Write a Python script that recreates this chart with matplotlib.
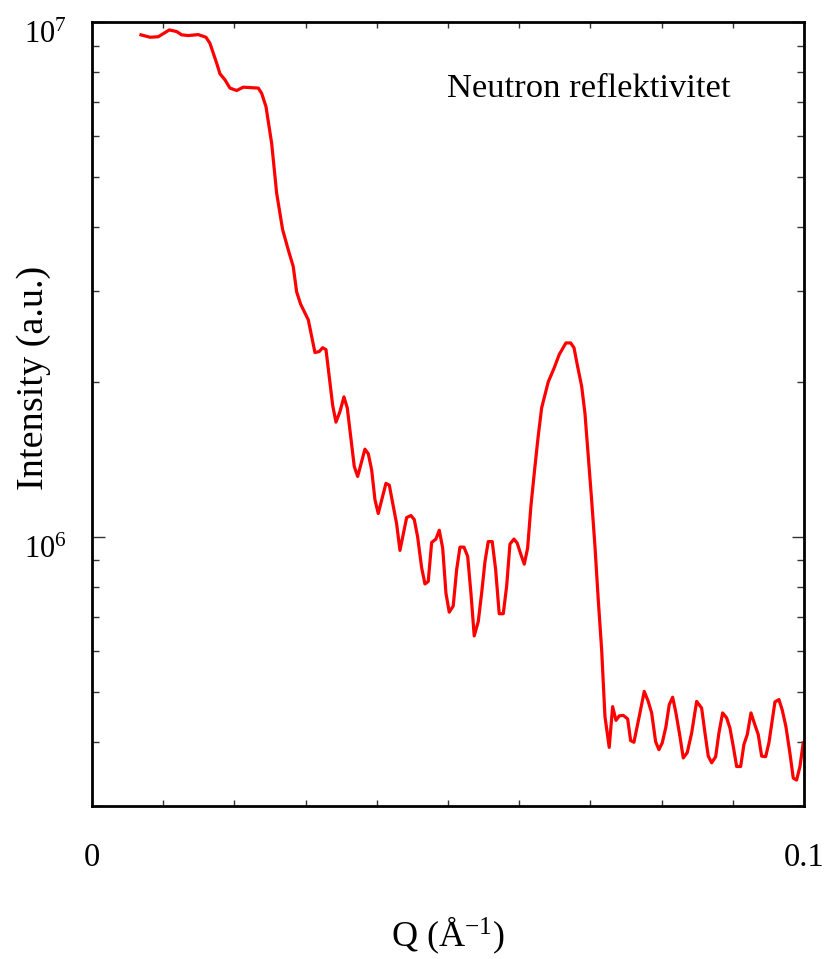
import matplotlib
matplotlib.use('Agg')
import matplotlib.pyplot as plt
from matplotlib.ticker import FixedLocator, LogLocator, NullFormatter, FixedFormatter
from matplotlib.transforms import ScaledTranslation

plt.rcParams['font.family'] = ['Liberation Serif', 'DejaVu Serif']
plt.rcParams['mathtext.fontset'] = 'custom'
plt.rcParams['mathtext.rm'] = 'Liberation Serif'
plt.rcParams['mathtext.it'] = 'Liberation Serif:italic'
plt.rcParams['ytick.alignment'] = 'center'

# Q (1/Å) och intensitet (a.u.)
q = [0.00688, 0.00815, 0.00931, 0.01086, 0.01190, 0.01260, 0.01353, 0.01493,
     0.01601, 0.01657, 0.01751, 0.01798, 0.01868, 0.01938, 0.02032, 0.02125,
     0.02336, 0.02383, 0.02444, 0.02524, 0.02594, 0.02678, 0.02757, 0.02827,
     0.02875, 0.02931, 0.03038, 0.03132, 0.03192, 0.03240, 0.03287, 0.03381,
     0.03427, 0.03483, 0.03539, 0.03586, 0.03624, 0.03684, 0.03732, 0.03834,
     0.03881, 0.03928, 0.03975, 0.04021, 0.04129, 0.04176, 0.04279, 0.04326,
     0.04420, 0.04480, 0.04527, 0.04574, 0.04631, 0.04677, 0.04723, 0.04771,
     0.04831, 0.04878, 0.04926, 0.04972, 0.05018, 0.05074, 0.05122, 0.05169,
     0.05225, 0.05277, 0.05323, 0.05369, 0.05426, 0.05473, 0.05520, 0.05566,
     0.05622, 0.05670, 0.05720, 0.05777, 0.05824, 0.05871, 0.05927, 0.05973,
     0.06021, 0.06072, 0.06119, 0.06166, 0.06222, 0.06268, 0.06316, 0.06409,
     0.06493, 0.06563, 0.06657, 0.06723, 0.06770, 0.06816, 0.06878, 0.06924,
     0.06971, 0.07018, 0.07065, 0.07111, 0.07159, 0.07205, 0.07265, 0.07313,
     0.07360, 0.07406, 0.07462, 0.07524, 0.07566, 0.07612, 0.07697, 0.07757,
     0.07813, 0.07861, 0.07917, 0.07963, 0.08010, 0.08062, 0.08108, 0.08156,
     0.08202, 0.08258, 0.08305, 0.08361, 0.08423, 0.08493, 0.08563, 0.08610,
     0.08656, 0.08704, 0.08760, 0.08806, 0.08858, 0.08914, 0.08961, 0.09007,
     0.09055, 0.09111, 0.09157, 0.09204, 0.09256, 0.09312, 0.09358, 0.09406,
     0.09462, 0.09508, 0.09593, 0.09649, 0.09695, 0.09747, 0.09803, 0.09850,
     0.09897, 0.09944, 0.09990]

intensity = [9.44e6, 9.34e6, 9.36e6, 9.65e6, 9.58e6, 9.44e6, 9.41e6, 9.45e6,
             9.34e6, 9.09e6, 8.32e6, 7.93e6, 7.72e6, 7.44e6, 7.36e6, 7.47e6,
             7.44e6, 7.27e6, 6.85e6, 5.81e6, 4.65e6, 3.95e6, 3.61e6, 3.35e6,
             2.99e6, 2.83e6, 2.64e6, 2.28e6, 2.29e6, 2.33e6, 2.31e6, 1.80e6,
             1.67e6, 1.75e6, 1.87e6, 1.78e6, 1.61e6, 1.37e6, 1.31e6, 1.48e6,
             1.45e6, 1.35e6, 1.18e6, 1.11e6, 1.27e6, 1.26e6, 1.06e6, 9.41e5,
             1.09e6, 1.10e6, 1.08e6, 1.00e6, 8.70e5, 8.10e5, 8.19e5, 9.75e5,
             9.90e5, 1.03e6, 9.51e5, 7.77e5, 7.14e5, 7.34e5, 8.63e5, 9.55e5,
             9.55e5, 9.16e5, 7.77e5, 6.42e5, 6.85e5, 7.77e5, 8.95e5, 9.79e5,
             9.79e5, 8.63e5, 7.09e5, 7.09e5, 8.01e5, 9.68e5, 9.90e5, 9.72e5,
             9.27e5, 8.85e5, 9.51e5, 1.15e6, 1.37e6, 1.57e6, 1.78e6, 2.00e6,
             2.13e6, 2.26e6, 2.38e6, 2.38e6, 2.33e6, 2.16e6, 1.96e6, 1.74e6,
             1.43e6, 1.18e6, 9.58e5, 7.55e5, 6.03e5, 4.48e5, 3.90e5, 4.68e5,
             4.40e5, 4.49e5, 4.50e5, 4.43e5, 4.02e5, 3.99e5, 4.55e5, 5.01e5,
             4.79e5, 4.55e5, 4.00e5, 3.86e5, 3.98e5, 4.28e5, 4.72e5, 4.88e5,
             4.55e5, 4.10e5, 3.72e5, 3.81e5, 4.16e5, 4.79e5, 4.65e5, 4.16e5,
             3.75e5, 3.64e5, 3.74e5, 4.16e5, 4.55e5, 4.45e5, 4.25e5, 3.92e5,
             3.58e5, 3.58e5, 3.95e5, 4.13e5, 4.55e5, 4.31e5, 4.13e5, 3.75e5,
             3.74e5, 3.98e5, 4.78e5, 4.83e5, 4.61e5, 4.28e5, 3.80e5, 3.40e5,
             3.37e5, 3.58e5, 3.98e5]

x_ticks = [0, 0.1]
x_ticklabels = ['0', '0.1']
x_minor = [0.01, 0.02, 0.03, 0.04, 0.05, 0.06, 0.07, 0.08, 0.09]
y_ticks = [1e6, 1e7]
y_ticklabels = [r'$10^{6}$', r'$10^{7}$']

fig = plt.figure(figsize=(8.3, 9.59), dpi=100)
ax = fig.add_axes([0.1108, 0.1595, 0.8578, 0.8176])

ax.plot(q, intensity, color='#ff0000', lw=2.3)

ax.set_yscale('log')
ax.set_xlim(0, 0.1)
ax.set_ylim(3.0e5, 1e7)

ax.xaxis.set_major_locator(FixedLocator(x_ticks))
ax.xaxis.set_major_formatter(FixedFormatter(x_ticklabels))
ax.xaxis.set_minor_locator(FixedLocator(x_minor))
ax.yaxis.set_major_locator(FixedLocator(y_ticks))
ax.yaxis.set_major_formatter(FixedFormatter(y_ticklabels))
ax.yaxis.set_minor_locator(LogLocator(base=10, subs=[2, 3, 4, 5, 6, 7, 8, 9]))
ax.yaxis.set_minor_formatter(NullFormatter())

ax.tick_params(axis='both', which='both', direction='in', top=True, right=True,
               width=1.0, color='#333333')
ax.tick_params(axis='x', which='major', length=0, pad=26, labelsize=23.5)
ax.tick_params(axis='x', which='minor', length=4)
ax.tick_params(axis='y', which='major', length=9, pad=18, labelsize=22)
ax.tick_params(axis='y', which='minor', length=5)

# etiketterna på y-axeln sitter lite lägre i originalet
shift = ScaledTranslation(0, -10 / 72, fig.dpi_scale_trans)
for t in ax.yaxis.get_major_ticks():
    t.label1.set_transform(t.label1.get_transform() + shift)

for s in ax.spines.values():
    s.set_linewidth(2.0)

ax.text(0.499, 0.915, 'Neutron reflektivitet', transform=ax.transAxes,
        fontsize=24.8, ha='left', va='center')

fig.text(34 / 830, 1 - 378 / 959, 'Intensity (a.u.)', rotation=90,
         fontsize=27.5, ha='center', va='center')
fig.text(448 / 830, 1 - 935 / 959, r'Q (Å$^{\mathrm{-1}}$)',
         fontsize=26, ha='center', va='center')

fig.savefig('out.png', dpi=100)
